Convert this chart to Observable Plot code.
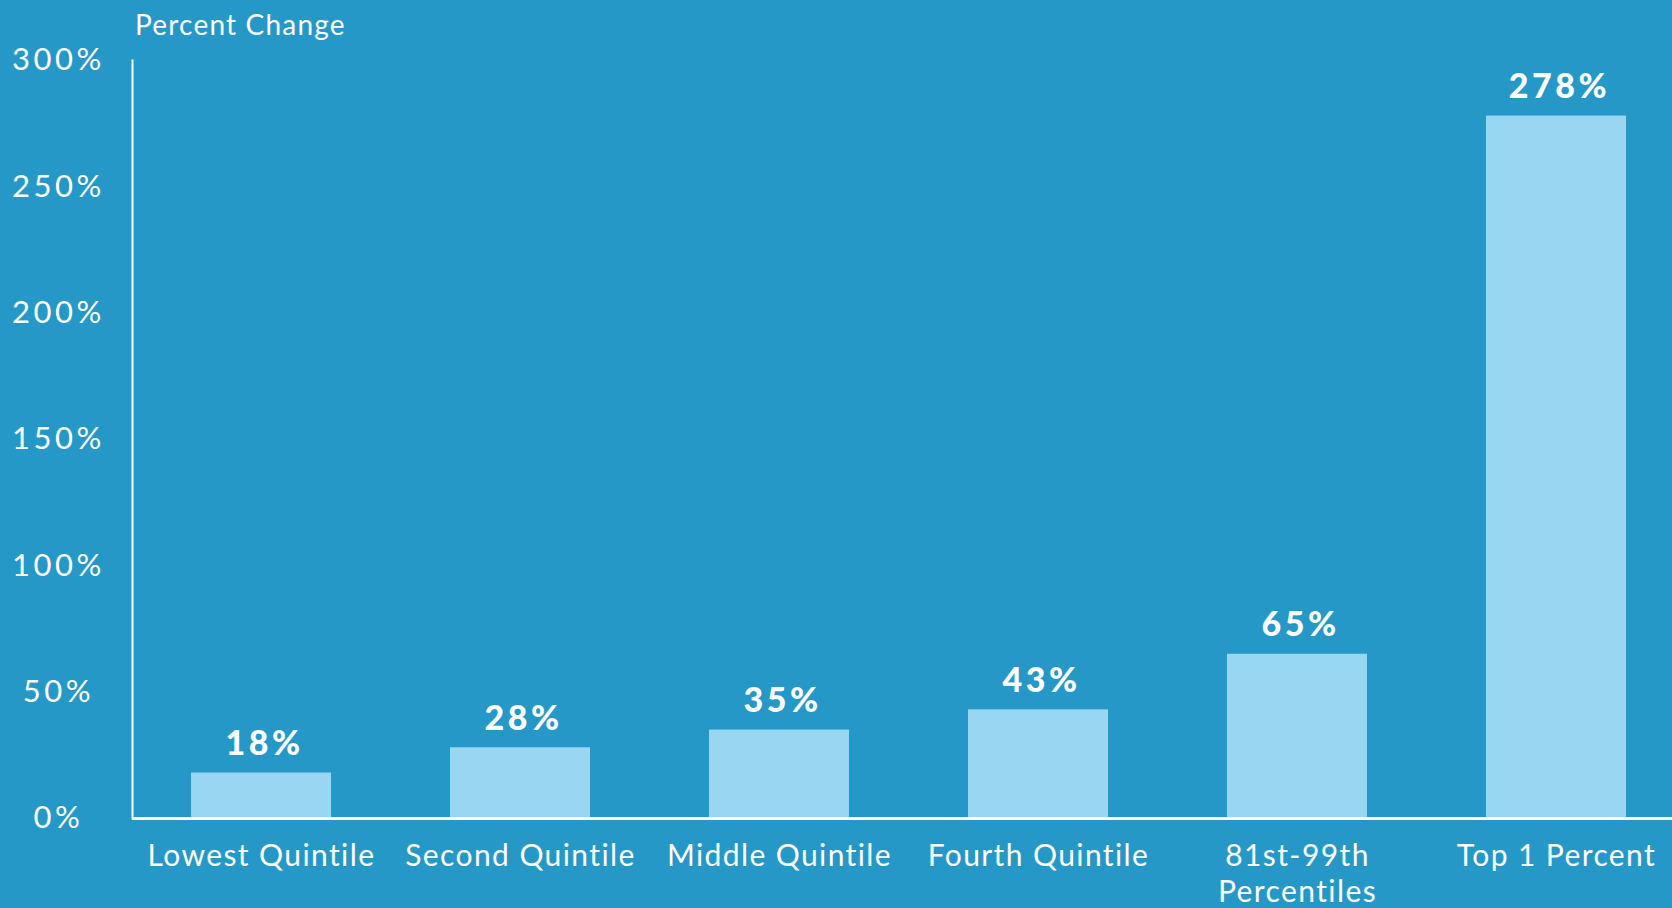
<!DOCTYPE html>
<html>
<head>
<meta charset="utf-8">
<script src="https://cdn.jsdelivr.net/npm/d3@7"></script>
<script src="https://cdn.jsdelivr.net/npm/@observablehq/plot@0.6"></script>
<style>
  html, body { margin: 0; padding: 0; background: #2698c7; overflow: hidden; }
  #wrap { width: 1672px; height: 908px; position: relative; background: #2698c7; }
  #title { height: 50px; line-height: 49px; padding-left: 135px; color: #fff;
           font-family: Lato, "Open Sans", sans-serif; font-size: 28px; letter-spacing: 1.2px; }
  #chart g[aria-label="x-axis tick label"] text { letter-spacing: 1.4px; }
  #chart g[aria-label="y-axis tick label"] text { letter-spacing: 3.5px; }
  #chart g[aria-label="text"] text { letter-spacing: 3.5px; }
</style>
</head>
<body>
<div id="wrap">
  <div id="title">Percent Change</div>
  <div id="chart"></div>
</div>
<script>
const categories = ["Lowest Quintile", "Second Quintile", "Middle Quintile", "Fourth Quintile", "81st-99th\nPercentiles", "Top 1 Percent"];
const values = [18, 28, 35, 43, 65, 278];
const yTicks = [0, 50, 100, 150, 200, 250, 300];

const data = categories.map((c, i) => ({category: c, value: values[i]}));

const bg = "#2698c7";
const barColor = "#98d6f2";

const chart = Plot.plot({
  width: 1672,
  height: 858,
  marginTop: 10,
  marginBottom: 90,
  marginLeft: 132,
  marginRight: 0,
  style: {background: bg, color: "#fff", fontFamily: "Lato, 'Open Sans', sans-serif", overflow: "visible"},
  x: {domain: categories, paddingInner: 0.46, paddingOuter: 0.2, align: 0.56, label: null},
  y: {domain: [0, 300], label: null},
  marks: [
    Plot.barY(data, {x: "category", y: "value", fill: barColor}),
    Plot.frame({anchor: "left", stroke: "#fff", strokeWidth: 2}),
    Plot.ruleY([0], {stroke: "#fff", strokeWidth: 3}),
    Plot.axisY({ticks: yTicks, tickFormat: d => d + "%", tickSize: 0, tickPadding: 74,
                textAnchor: "middle", fontSize: 31, label: null, fill: "#fff"}),
    Plot.axisX({tickSize: 0, tickPadding: 22, fontSize: 30, label: null, lineHeight: 1.2, fill: "#fff"}),
    Plot.text(data, {x: "category", y: "value", text: d => d.value + "%", dy: -29, dx: 3,
                     fontSize: 34, fontWeight: 900, fill: "#fff"})
  ]
});
document.getElementById("chart").appendChild(chart);
</script>
</body>
</html>
